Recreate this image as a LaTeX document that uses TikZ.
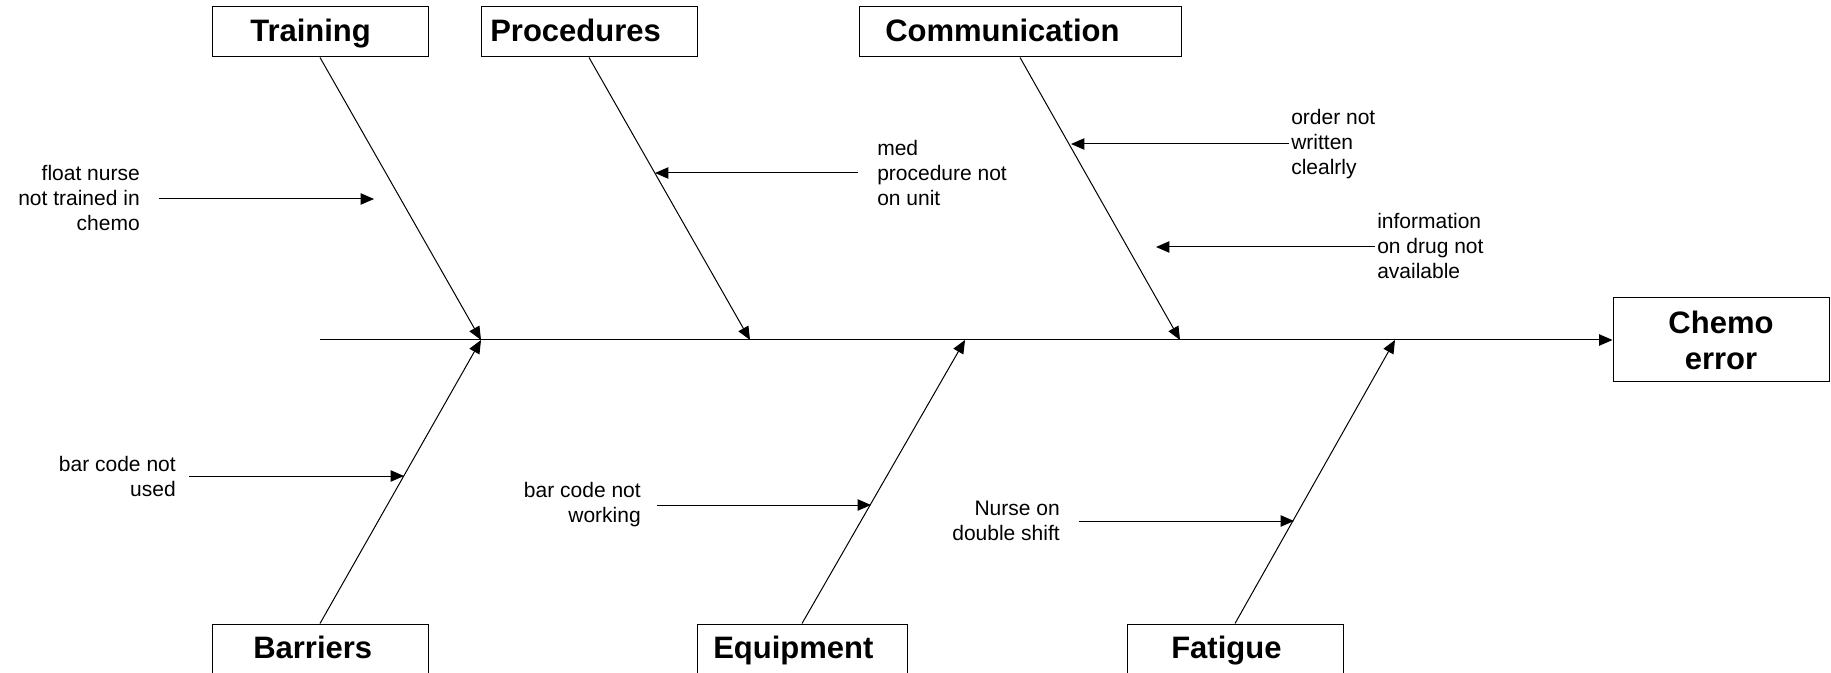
\documentclass[tikz,border=0pt]{standalone}
\usepackage{fontspec}
\setmainfont{Liberation Sans}
\usetikzlibrary{arrows.meta}
\begin{document}
\begin{tikzpicture}[x=0.75pt,y=-0.75pt,
  box/.style={draw=black, line width=0.75pt, fill=white, inner sep=0pt},
  title/.style={font=\bfseries\fontsize{23.25pt}{26.25pt}\selectfont, inner sep=0pt, anchor=base west},
  note/.style={font=\fontsize{15.75pt}{18.75pt}\selectfont, inner sep=0pt},
  bone/.style={draw=black, line width=0.75pt, -{Triangle[length=10pt,width=8.5pt]}},
]
\useasboundingbox (0,0) rectangle (1831,673);

% category boxes
\node[box, minimum width=162pt, minimum height=37.5pt] (training) at (320,32) {};
\node[box, minimum width=162pt, minimum height=37.5pt] (procedures) at (589,32) {};
\node[box, minimum width=241.5pt, minimum height=37.5pt] (communication) at (1020,32) {};
\node[box, minimum width=162pt, minimum height=40.5pt] (barriers) at (320,651) {};
\node[box, minimum width=157.5pt, minimum height=40.5pt] (equipment) at (802,651) {};
\node[box, minimum width=162pt, minimum height=40.5pt] (fatigue) at (1235,651) {};

\node[title] (trainingT) at (250,42) {Training};
\node[title] (proceduresT) at (490,42) {Procedures};
\node[title] (communicationT) at (885,42) {Communication};
\node[title] (barriersT) at (253,658) {Barriers};
\node[title] (equipmentT) at (713,658) {Equipment};
\node[title] (fatigueT) at (1171,658) {Fatigue};

% effect box
\node[box, minimum width=162pt, minimum height=63pt, align=center,
      font=\bfseries\fontsize{23.25pt}{27pt}\selectfont] (chemo) at (1721,340) {Chemo\\error};

% spine
\coordinate (s0) at (320,340);
\coordinate (j1) at (481,340);
\coordinate (j2) at (750,340);
\coordinate (j3) at (965,340);
\coordinate (j4) at (1180,340);
\coordinate (j5) at (1395,340);
\draw[bone] (s0) -- (chemo.west);

% main bones
\draw[bone] (training.south) -- (j1);
\draw[bone] (procedures.south) -- (j2);
\draw[bone] (communication.south) -- (j4);
\draw[bone] (barriers.north) -- (j1);
\draw[bone] (equipment.north) -- (j3);
\draw[bone] (fatigue.north) -- (j5);

% causes
\node[note, align=right, anchor=east] (float) at (140,198) {float nurse\\not trained in\\chemo};
\coordinate (floatS) at (159,199);
\coordinate (floatE) at (374,199);
\draw[bone] (floatS) -- (floatE);

\node[note, align=left, anchor=west] (med) at (877,173) {med\\procedure not\\on unit};
\coordinate (medS) at (858,173);
\coordinate (medE) at (655,173);
\draw[bone] (medS) -- (medE);

\node[note, align=left, anchor=west] (order) at (1291,144) {order not\\written\\clealrly};
\coordinate (orderS) at (1289,144);
\coordinate (orderE) at (1071,144);
\draw[bone] (orderS) -- (orderE);

\node[note, align=left, anchor=west] (info) at (1377,246) {information\\on drug not\\available};
\coordinate (infoS) at (1375,247);
\coordinate (infoE) at (1156,247);
\draw[bone] (infoS) -- (infoE);

\node[note, align=right, anchor=east] (used) at (176,476) {bar code not\\used};
\coordinate (usedS) at (189,476);
\coordinate (usedE) at (404,476);
\draw[bone] (usedS) -- (usedE);

\node[note, align=right, anchor=east] (working) at (641,505) {bar code not\\working};
\coordinate (workS) at (657,505);
\coordinate (workE) at (871,505);
\draw[bone] (workS) -- (workE);

\node[note, align=right, anchor=east] (nurse) at (1060,521) {Nurse on\\double shift};
\coordinate (nurseS) at (1079,521);
\coordinate (nurseE) at (1294,521);
\draw[bone] (nurseS) -- (nurseE);
\end{tikzpicture}
\end{document}
